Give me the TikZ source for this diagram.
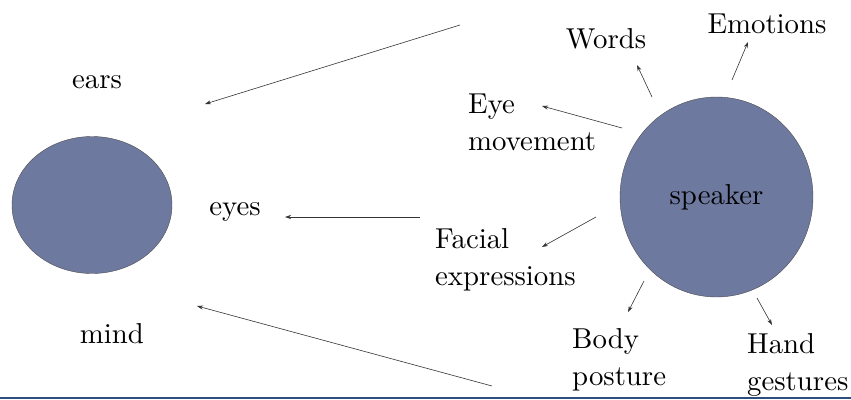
\documentclass[tikz,border=0pt]{standalone}
\usepackage{fontspec}
\setmainfont{lmroman10-regular}[Extension=.otf]
\usetikzlibrary{arrows.meta,shapes.geometric}
\definecolor{blobblue}{RGB}{110,121,160}
\definecolor{rulebar}{RGB}{43,79,126}
\tikzset{
  word/.style={font=\rmfamily\fontsize{28.8}{37}\selectfont, inner sep=0pt},
  pointer/.style={draw=black!80, line width=0.6pt, -{Stealth[length=6pt,width=4pt]}},
  blob/.style={ellipse, draw=black!70, fill=blobblue, inner sep=0pt}
}
\begin{document}
\begin{tikzpicture}[x=1pt,y=-1pt]
  \useasboundingbox (0,0) rectangle (851,399);
  \draw[rulebar, line width=2pt] (0,398) -- (851,398);

  % the two heads
  \node[blob, minimum width=160pt, minimum height=137pt] (listener) at (92,205) {};
  \node[blob, word, minimum width=193pt, minimum height=200pt] (speaker) at (716.5,197) {speaker};

  % listener side
  \node[word, anchor=base] (ears) at (97,88) {ears};
  \node[word, anchor=base] (eyes) at (235,215) {eyes};
  \node[word, anchor=base] (mind) at (112,343) {mind};

  % speaker side (base of a two line node is its last line)
  \node[word, anchor=base] (words) at (606,48) {Words};
  \node[word, anchor=base] (emotions) at (767,33) {Emotions};
  \node[word, anchor=base west, align=left] (eyemove) at (468,150) {Eye\\movement};
  \node[word, anchor=base west, align=left] (facial) at (435,285) {Facial\\expressions};
  \node[word, anchor=base west, align=left] (body) at (572,385) {Body\\posture};
  \node[word, anchor=base west, align=left] (hand) at (747,390) {Hand\\gestures};

  % arrow ends
  \coordinate (topfrom) at (460,25);   \coordinate (earsto) at (205,104);
  \coordinate (eyesfrom) at (420,217); \coordinate (eyesto) at (285,217);
  \coordinate (lowfrom) at (492,386);  \coordinate (mindto) at (197,306);
  \coordinate (wordsfrom) at (652,97); \coordinate (wordsto) at (637,65);
  \coordinate (emofrom) at (732,80);   \coordinate (emoto) at (748,42);
  \coordinate (eyefrom) at (622,128);  \coordinate (eyeto) at (542,106);
  \coordinate (facefrom) at (596,217); \coordinate (faceto) at (542,247);
  \coordinate (bodyfrom) at (644,281); \coordinate (bodyto) at (628,312);
  \coordinate (handfrom) at (757,298); \coordinate (handto) at (772,325);

  \foreach \a/\b in {topfrom/earsto,eyesfrom/eyesto,lowfrom/mindto,wordsfrom/wordsto,
    emofrom/emoto,eyefrom/eyeto,facefrom/faceto,bodyfrom/bodyto,handfrom/handto}
  \draw[pointer] (\a) -- (\b);
\end{tikzpicture}
\end{document}
